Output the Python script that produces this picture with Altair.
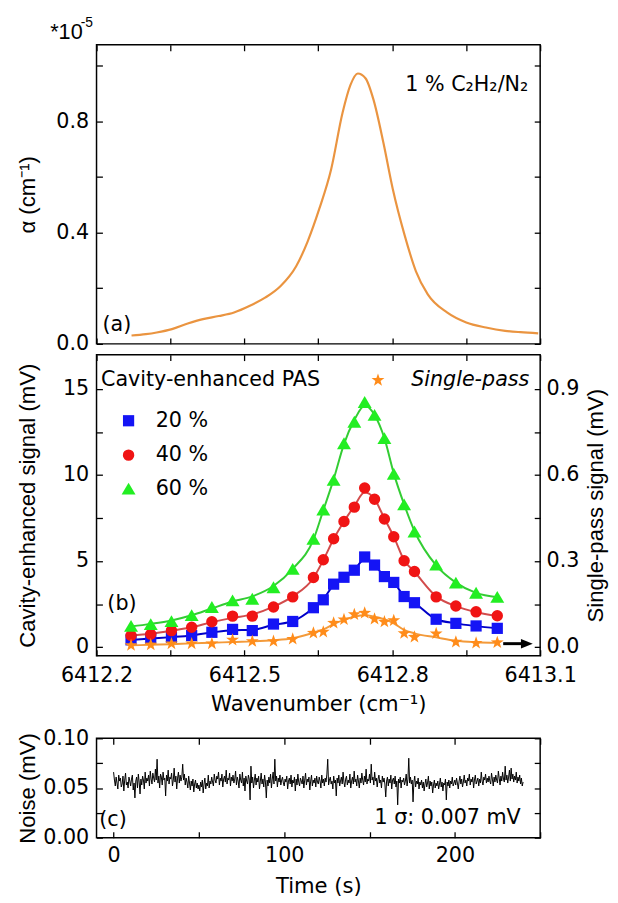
import altair as alt
import pandas as pd

# ---------------- data ----------------
# (a) absorption coefficient, in units of 1e-5 cm^-1
alpha_wn = [6412.271, 6412.300, 6412.322, 6412.353, 6412.385, 6412.416, 6412.448, 6412.479,
            6412.510, 6412.542, 6412.573, 6412.605, 6412.628, 6412.652, 6412.676, 6412.699,
            6412.715, 6412.730, 6412.746, 6412.762, 6412.782, 6412.801, 6412.825, 6412.848,
            6412.872, 6412.911, 6412.950, 6412.990, 6413.029, 6413.060, 6413.096]
alpha_val = [0.030, 0.035, 0.041, 0.053, 0.073, 0.089, 0.100, 0.113,
             0.136, 0.166, 0.207, 0.279, 0.367, 0.486, 0.628, 0.830,
             0.930, 0.972, 0.954, 0.877, 0.723, 0.557, 0.391, 0.261,
             0.178, 0.113, 0.077, 0.059, 0.047, 0.042, 0.038]

# (b) cavity-enhanced PAS signals (mV) and single-pass signal (mV)
wn = [6412.270, 6412.310, 6412.352, 6412.393, 6412.434, 6412.476, 6412.516, 6412.559,
      6412.598, 6412.640, 6412.660, 6412.681, 6412.702, 6412.723, 6412.744, 6412.764,
      6412.784, 6412.803, 6412.824, 6412.845, 6412.889, 6412.929, 6412.970, 6413.013]
ce20 = [0.42, 0.52, 0.57, 0.67, 0.86, 1.03, 0.96, 1.34, 1.49, 2.29, 2.75, 3.66,
        4.06, 4.47, 5.24, 4.77, 4.10, 3.76, 2.94, 2.58, 1.62, 1.38, 1.23, 1.09]
ce40 = [0.67, 0.75, 0.96, 1.15, 1.47, 1.80, 1.80, 2.33, 2.92, 4.05, 5.08, 6.30,
        7.30, 8.14, 9.25, 8.60, 7.45, 6.42, 5.02, 4.40, 2.92, 2.39, 2.05, 1.82]
ce60 = [1.23, 1.34, 1.51, 1.86, 2.33, 2.72, 2.81, 3.48, 4.55, 6.30, 8.00, 9.72,
        11.85, 13.10, 14.25, 13.50, 12.15, 10.08, 8.30, 6.72, 4.80, 3.75, 3.16, 2.92]
sp = [0.006, 0.008, 0.012, 0.012, 0.012, 0.025, 0.020, 0.020, 0.028, 0.049, 0.053, 0.084,
      0.096, 0.114, 0.119, 0.098, 0.088, 0.093, 0.048, 0.035, 0.047, 0.018, 0.014, 0.016]
fit20 = [0.42, 0.50, 0.58, 0.68, 0.85, 0.98, 1.00, 1.30, 1.50, 2.27, 2.78, 3.62,
         4.05, 4.48, 5.12, 4.78, 4.10, 3.75, 2.96, 2.58, 1.62, 1.38, 1.22, 1.09]
fit40 = [0.68, 0.78, 0.95, 1.15, 1.45, 1.70, 1.90, 2.35, 2.95, 4.02, 5.05, 6.28,
         7.30, 8.20, 9.00, 8.60, 7.48, 6.42, 5.05, 4.38, 2.95, 2.38, 2.03, 1.82]
fit60 = [1.20, 1.35, 1.55, 1.85, 2.25, 2.65, 2.95, 3.55, 4.55, 6.25, 7.95, 9.75,
         11.80, 13.20, 14.05, 13.50, 12.15, 10.10, 8.30, 6.75, 4.75, 3.75, 3.15, 2.90]
fit_sp = [0.006, 0.008, 0.010, 0.013, 0.015, 0.018, 0.020, 0.024, 0.031, 0.050, 0.062, 0.080,
          0.095, 0.106, 0.111, 0.106, 0.097, 0.083, 0.060, 0.048, 0.034, 0.022, 0.017, 0.015]

# (c) noise trace, microvolts, one sample every 0.5 s
noise_step_s = 0.5
noise_uV = [
    66, 58, 52, 61, 55, 49, 63, 57, 60, 51, 54, 62, 47, 58, 65, 53, 56, 50, 61, 57,
    52, 59, 63, 48, 55, 40, 57, 61, 50, 64, 56, 44, 59, 53, 62, 58, 49, 66, 55, 60,
    57, 63, 52, 67, 59, 54, 65, 60, 56, 69, 58, 79, 55, 62, 50, 64, 61, 53, 66, 58,
    60, 42, 63, 57, 68, 54, 61, 59, 65, 52, 58, 70, 56, 62, 49, 60, 66, 55, 63, 57,
    61, 74, 58, 64, 53, 60, 56, 50, 62, 55, 48, 57, 52, 59, 46, 54, 58, 50, 55, 49,
    53, 47, 56, 51, 58, 45, 54, 60, 49, 55, 52, 63, 50, 57, 54, 61, 56, 52, 64, 58,
    55, 62, 59, 66, 53, 60, 57, 64, 51, 59, 62, 56, 68, 54, 60, 58, 65, 52, 61, 57,
    63, 55, 59, 67, 53, 61, 57, 50, 64, 58, 55, 66, 52, 60, 47, 62, 57, 54, 63, 59,
    38, 72, 55, 61, 50, 58, 64, 53, 60, 56, 62, 49, 57, 65, 54, 59, 51, 63, 56, 40,
    58, 52, 61, 55, 64, 50, 59, 66, 54, 79, 57, 62, 51, 60, 56, 63, 53, 58, 61, 55,
    52, 59, 56, 62, 49, 57, 60, 54, 63, 51, 58, 55, 61, 47, 59, 53, 64, 56, 52, 60,
    57, 54, 62, 50, 58, 65, 53, 59, 56, 61, 48, 57, 63, 52, 58, 55, 60, 51, 62, 56,
    54, 61, 57, 50, 63, 55, 59, 52, 60, 56, 64, 79, 53, 58, 61, 54, 57, 49, 62, 55,
    58, 42, 60, 55, 63, 52, 57, 61, 54, 66, 56, 51, 59, 62, 53, 58, 55, 64, 50, 57,
    61, 54, 67, 56, 59, 52, 63, 57, 50, 60, 55, 65, 58, 53, 62, 56, 69, 54, 59, 57,
    64, 55, 74, 58, 61, 53, 66, 57, 60, 51, 59, 63, 55, 58, 50, 62, 56, 60, 54, 41,
    57, 61, 52, 59, 55, 63, 49, 58, 60, 54, 62, 51, 57, 33, 59, 55, 61, 50, 58, 56,
    60, 53, 57, 64, 52, 59, 80, 55, 61, 54, 58, 36, 56, 62, 51, 57, 54, 60, 49, 56,
    53, 58, 50, 56, 47, 54, 59, 51, 55, 62, 49, 57, 52, 56, 45, 53, 58, 50, 55, 52,
    57, 49, 54, 60, 51, 56, 47, 55, 53, 59, 38, 56, 52, 58, 50, 57, 54, 61, 52, 55,
    58, 53, 60, 55, 49, 57, 62, 54, 59, 51, 56, 63, 55, 58, 52, 60, 57, 64, 53, 59,
    56, 61, 50, 58, 63, 54, 57, 60, 52, 59, 55, 66, 57, 53, 61, 58, 64, 55, 60, 56,
    62, 57, 54, 65, 59, 52, 61, 56, 63, 58, 55, 67, 60, 53, 62, 57, 66, 59, 56, 72,
    58, 63, 55, 61, 68, 57, 70, 59, 64, 56, 62, 58, 66, 55, 61, 57, 63, 54, 60, 52,
    56,
]

# axis ticks
x_ticks_wn = [6412.2, 6412.35, 6412.5, 6412.65, 6412.8, 6412.95, 6413.1]
y_ticks_a = [0.0, 0.2, 0.4, 0.6, 0.8, 1.0]
y_ticks_ce = [0, 2.5, 5, 7.5, 10, 12.5, 15]
y_ticks_sp = [0.0, 0.15, 0.3, 0.45, 0.6, 0.75, 0.9]
x_ticks_t = [0, 50, 100, 150, 200, 250]
y_ticks_n = [0.0, 0.025, 0.05, 0.075, 0.1]

# ---------------- style ----------------
FONT = "DejaVu Sans"          # horizontal texts (wide glyphs, like the stretched original)
VFONT = "Liberation Sans"     # rotated axis titles and the exponent
FS = 21
TICK = 6
W = 451
ORANGE_A = "#EA9440"
ORANGE_M = "#FF8C1A"
ORANGE_L = "#F39A3A"
BLUE_M, BLUE_L = "#1414F5", "#0000C8"
RED_M, RED_L = "#F01414", "#D24B4B"
GREEN_M, GREEN_L = "#22EE22", "#33CC33"

# marker outlines (unit box -1..1, scaled by Vega)
SQUARE = "M-1,-1L1,-1L1,1L-1,1Z"
TRIANGLE = "M0,-0.85L1,0.85L-1,0.85Z"
STAR = ("M0,-1L0.235,-0.324L0.951,-0.309L0.38,0.124L0.588,0.809L0,0.4"
        "L-0.588,0.809L-0.38,0.124L-0.951,-0.309L-0.235,-0.324Z")
ARROWHEAD = "M1,0L-1,-0.8L-1,0.8Z"


def axis(orient, values, expr=None, title=None, show_labels=True, **kw):
    args = dict(orient=orient, values=values, domain=False, grid=False,
                tickSize=TICK, offset=-TICK, tickColor="black", tickWidth=1.3,
                labels=show_labels, labelFont=FONT, labelFontSize=FS,
                labelColor="black", labelFlush=False, labelPadding=4,
                titleFont=FONT, titleFontSize=21.5, titleFontWeight="normal",
                titleColor="black", title=title)
    if expr:
        args["labelExpr"] = expr
    args.update(kw)
    return alt.Axis(**args)


def left_axis(values, expr, title):
    return axis("left", values, expr, title=title, labelPadding=8, titleFont=VFONT,
                titleFontSize=22.5, titleX=-76, titleBaseline="middle", titleAngle=270)


def txt(**kw):
    base = dict(font=FONT, fontSize=FS, color="black", baseline="middle", align="left")
    base.update(kw)
    return base


# ---------------- (a) ----------------
xs = alt.Scale(domain=[6412.2, 6413.1], nice=False, zero=False)
ys_a = alt.Scale(domain=[0, 1.075], nice=False, zero=False)
expr_wn = "round(datum.value*100) % 30 == 0 ? format(datum.value, '.1f') : ''"

ax_a_b = axis("bottom", x_ticks_wn, show_labels=False)
ax_a_t = axis("top", x_ticks_wn, show_labels=False)
ax_a_l = left_axis(y_ticks_a, "round(datum.value*10) % 4 == 0 ? format(datum.value, '.1f') : ''",
                   "α (cm⁻¹)")
ax_a_r = axis("right", y_ticks_a, show_labels=False)

df_a = pd.DataFrame({"wn": alpha_wn, "a": alpha_val})
ann_a1 = pd.DataFrame({"x": [6412.212], "y": [0.067], "t": ["(a)"]})
ann_a2 = pd.DataFrame({"x": [6413.076], "y": [0.93], "t": ["1 % C₂H₂/N₂"]})
exp_a1 = pd.DataFrame({"x": [6412.106], "y": [1.12], "t": ["*10"]})
exp_a2 = pd.DataFrame({"x": [6412.168], "y": [1.153], "t": ["-5"]})


def XA(f):
    return alt.X(f"{f}:Q", scale=xs, axis=ax_a_b)


def YA(f):
    return alt.Y(f"{f}:Q", scale=ys_a, axis=ax_a_l)


a_line = alt.Chart(df_a).mark_line(color=ORANGE_A, strokeWidth=2.2, interpolate="monotone").encode(
    x=XA("wn"), y=YA("a"))
a_txt1 = alt.Chart(ann_a1).mark_text(**txt()).encode(x=XA("x"), y=YA("y"), text="t:N")
a_txt2 = alt.Chart(ann_a2).mark_text(**txt(align="right")).encode(x=XA("x"), y=YA("y"), text="t:N")
a_exp1 = alt.Chart(exp_a1).mark_text(**txt(font=VFONT, fontSize=22)).encode(
    x=XA("x"), y=YA("y"), text="t:N")
a_exp2 = alt.Chart(exp_a2).mark_text(**txt(font=VFONT, fontSize=14)).encode(
    x=XA("x"), y=YA("y"), text="t:N")
a_main = alt.layer(a_line, a_txt1, a_txt2, a_exp1, a_exp2)
a_mirror = alt.Chart(df_a).mark_line(opacity=0).encode(
    x=alt.X("wn:Q", scale=xs, axis=ax_a_t), y=alt.Y("a:Q", scale=ys_a, axis=ax_a_r))
panel_a = alt.layer(a_main, a_mirror).resolve_axis(x="independent", y="independent").properties(
    width=W, height=304)

# ---------------- (b) ----------------
ys_ce = alt.Scale(domain=[-0.5, 17], nice=False, zero=False)
ys_sp = alt.Scale(domain=[-0.03, 1.02], nice=False, zero=False)
ax_b_b = axis("bottom", x_ticks_wn, expr_wn, title="Wavenumber (cm⁻¹)", labelPadding=9,
              titlePadding=9)
ax_b_t = axis("top", x_ticks_wn, show_labels=False)
ax_b_l = left_axis(y_ticks_ce, "datum.value % 5 == 0 ? format(datum.value, 'd') : ''",
                   "Cavity-enhanced signal (mV)")
ax_b_r = axis("right", y_ticks_sp,
              "round(datum.value*100) % 30 == 0 ? format(datum.value, '.1f') : ''",
              title="Single-pass signal (mV)", labelPadding=6, titleAngle=270,
              titleFont=VFONT, titleFontSize=22.5, titleBaseline="middle", titleX=62)

df_b = pd.DataFrame({"wn": wn, "ce20": ce20, "ce40": ce40, "ce60": ce60, "sp": sp,
                     "f20": fit20, "f40": fit40, "f60": fit60, "fsp": fit_sp})


def XL(f):
    return alt.X(f"{f}:Q", scale=xs, axis=ax_b_b)


def YL(f):
    return alt.Y(f"{f}:Q", scale=ys_ce, axis=ax_b_l)


def XR(f):
    return alt.X(f"{f}:Q", scale=xs, axis=ax_b_t)


def YR(f):
    return alt.Y(f"{f}:Q", scale=ys_sp, axis=ax_b_r)


def sq(data, xf, yf):
    return alt.Chart(data).mark_point(shape=SQUARE, filled=True, size=130, color=BLUE_M,
                                      opacity=1).encode(x=XL(xf), y=YL(yf))


def ci(data, xf, yf):
    return alt.Chart(data).mark_circle(size=135, color=RED_M, opacity=1).encode(
        x=XL(xf), y=YL(yf))


def tri(data, xf, yf):
    return alt.Chart(data).mark_point(shape=TRIANGLE, filled=True, size=200, color=GREEN_M,
                                      opacity=1).encode(x=XL(xf), y=YL(yf))


fit_lines = [
    alt.Chart(df_b).mark_line(color=c, strokeWidth=2, interpolate="monotone").encode(
        x=XL("wn"), y=YL(f))
    for f, c in [("f20", BLUE_L), ("f40", RED_L), ("f60", GREEN_L)]
]
pts = [sq(df_b, "wn", "ce20"), ci(df_b, "wn", "ce40"), tri(df_b, "wn", "ce60")]

leg_x = [6412.265]
leg_tx = [6412.32]
leg_y = [13.16, 11.16, 9.21]
leg_t = ["20 %", "40 %", "60 %"]
leg_pts = [
    sq(pd.DataFrame({"x": leg_x, "y": [leg_y[0]]}), "x", "y"),
    ci(pd.DataFrame({"x": leg_x, "y": [leg_y[1]]}), "x", "y"),
    tri(pd.DataFrame({"x": leg_x, "y": [leg_y[2]]}), "x", "y"),
]
leg_lab = pd.DataFrame({"x": leg_tx * 3, "y": leg_y, "t": leg_t})
leg_txt = alt.Chart(leg_lab).mark_text(**txt()).encode(x=XL("x"), y=YL("y"), text="t:N")
ann_b = pd.DataFrame({"x": [6412.209, 6412.222], "y": [15.5, 2.5],
                      "t": ["Cavity-enhanced PAS", "(b)"]})
ann_b_txt = alt.Chart(ann_b).mark_text(**txt()).encode(x=XL("x"), y=YL("y"), text="t:N")

left_group = alt.layer(*fit_lines, *pts, *leg_pts, leg_txt, ann_b_txt)

sp_line = alt.Chart(df_b).mark_line(color=ORANGE_L, strokeWidth=2, interpolate="monotone").encode(
    x=XR("wn"), y=YR("fsp"))
sp_pts = alt.Chart(df_b).mark_point(shape=STAR, filled=True, size=190, color=ORANGE_M,
                                    opacity=1).encode(x=XR("wn"), y=YR("sp"))
sp_leg_pt = pd.DataFrame({"x": [6412.771], "y": [0.931]})
sp_leg_lab = pd.DataFrame({"x": [6413.078], "y": [0.931], "t": ["Single-pass"]})
sp_leg_mark = alt.Chart(sp_leg_pt).mark_point(shape=STAR, filled=True, size=190, color=ORANGE_M,
                                              opacity=1).encode(x=XR("x"), y=YR("y"))
sp_leg_txt = alt.Chart(sp_leg_lab).mark_text(**txt(align="right", fontStyle="italic")).encode(
    x=XR("x"), y=YR("y"), text="t:N")
arrow = pd.DataFrame({"x1": [6413.025], "x2": [6413.066], "xh": [6413.073], "y": [0.012]})
arrow_line = alt.Chart(arrow).mark_rule(color="black", strokeWidth=3).encode(
    x=XR("x1"), x2="x2:Q", y=YR("y"))
arrow_head = alt.Chart(arrow).mark_point(shape=ARROWHEAD, filled=True, size=144,
                                         color="black", opacity=1).encode(x=XR("xh"), y=YR("y"))
right_group = alt.layer(sp_line, sp_pts, sp_leg_mark, sp_leg_txt, arrow_line, arrow_head)

panel_b = alt.layer(left_group, right_group).resolve_scale(y="independent").resolve_axis(
    x="independent", y="independent").properties(width=W, height=306)

# ---------------- (c) ----------------
xs_t = alt.Scale(domain=[-10, 250], nice=False, zero=False)
ys_n = alt.Scale(domain=[0, 0.1], nice=False, zero=False)
ax_c_b = axis("bottom", x_ticks_t, "datum.value % 100 == 0 ? format(datum.value, 'd') : ''",
              title="Time (s)", labelPadding=7, titlePadding=11)
ax_c_t = axis("top", x_ticks_t, show_labels=False)
ax_c_l = left_axis(y_ticks_n, "round(datum.value*1000) % 50 == 0 ? format(datum.value, '.2f') : ''",
                   "Noise (mV)")
ax_c_r = axis("right", y_ticks_n, show_labels=False)

df_c = pd.DataFrame({"t": [i * noise_step_s for i in range(len(noise_uV))],
                     "n": [v / 1000 for v in noise_uV]})


def XC(f):
    return alt.X(f"{f}:Q", scale=xs_t, axis=ax_c_b)


def YC(f):
    return alt.Y(f"{f}:Q", scale=ys_n, axis=ax_c_l)


c_line = alt.Chart(df_c).mark_line(color="black", strokeWidth=1).encode(x=XC("t"), y=YC("n"))
ann_c1 = pd.DataFrame({"x": [-8.4], "y": [0.018], "t": ["(c)"]})
ann_c2 = pd.DataFrame({"x": [238.6], "y": [0.02], "t": ["1 σ: 0.007 mV"]})
c_t1 = alt.Chart(ann_c1).mark_text(**txt()).encode(x=XC("x"), y=YC("y"), text="t:N")
c_t2 = alt.Chart(ann_c2).mark_text(**txt(align="right")).encode(x=XC("x"), y=YC("y"), text="t:N")
c_main = alt.layer(c_line, c_t1, c_t2)
c_mirror = alt.Chart(df_c).mark_line(opacity=0).encode(
    x=alt.X("t:Q", scale=xs_t, axis=ax_c_t), y=alt.Y("n:Q", scale=ys_n, axis=ax_c_r))
panel_c = alt.layer(c_main, c_mirror).resolve_axis(x="independent", y="independent").properties(
    width=W, height=101)

upper = alt.vconcat(panel_a, panel_b, spacing=-10.5)
chart = alt.vconcat(upper, panel_c, spacing=10).properties(
    padding={"left": 8, "top": 0, "right": 2, "bottom": 0},
    background="white").configure_view(stroke="black", strokeWidth=1.5)

chart.save("out.html", embed_options={"renderer": "svg", "actions": False})
